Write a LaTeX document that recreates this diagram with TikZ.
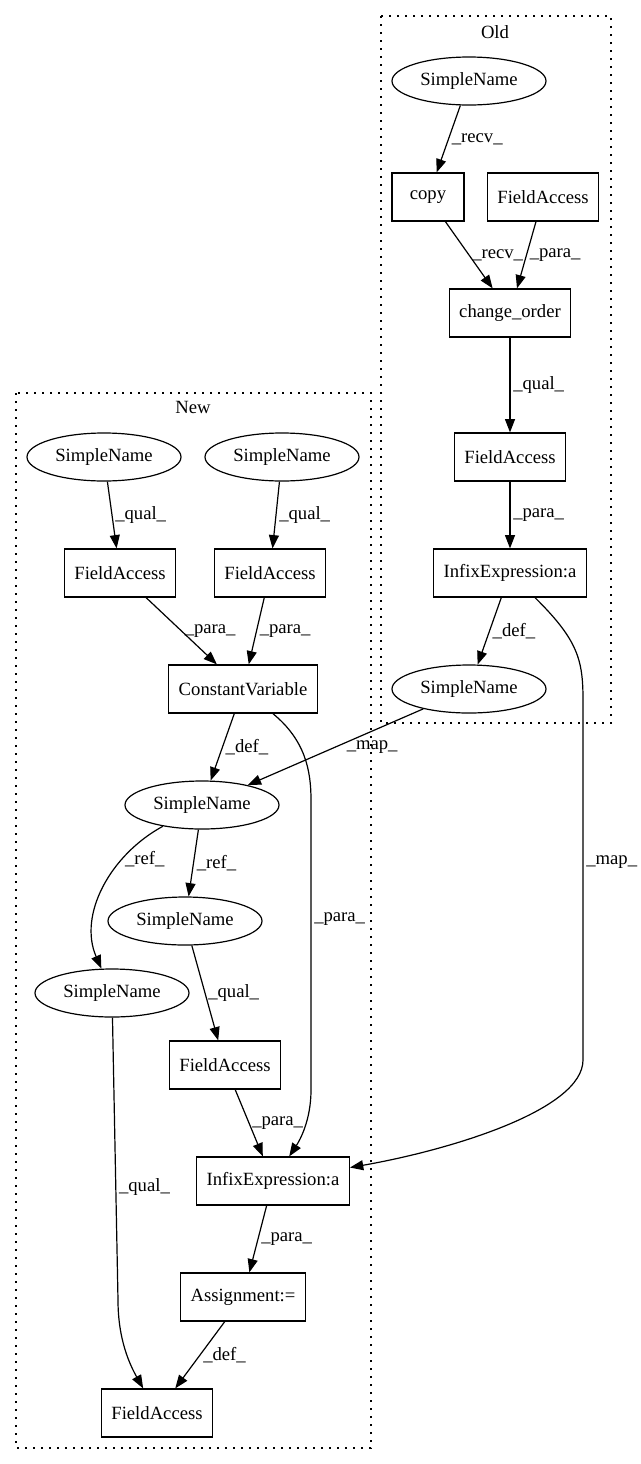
\documentclass[tikz,border=0pt]{standalone}
\usepackage{fontspec}
\setmainfont{Liberation Serif}
\usepackage{tikz}
\usetikzlibrary{arrows.meta,shapes.geometric}

\begin{document}
\begin{tikzpicture}[x=0.75pt, y=-0.75pt, line width=0.9pt, font=\fontsize{14}{16}\selectfont,
  >={Triangle[length=10pt, width=7.5pt]},
  box/.style={rectangle, draw, minimum width=54pt, minimum height=36pt, inner xsep=7.5pt},
  oval/.style={ellipse, draw, minimum width=115.5pt, minimum height=36pt, inner sep=0pt},
  cluster/.style={draw, line width=1pt, dash pattern=on 1.5pt off 4.5pt},
  lbl/.style={anchor=west, inner sep=2pt}]
\useasboundingbox (0, 0) rectangle (640, 1464);

% clusters
\draw [cluster] (381, 16) rectangle (611, 723);
\draw [cluster] (16, 393) rectangle (371, 1448);
\node (oldtitle) at (495, 32) {Old};
\node (newtitle) at (193, 407) {New};

% old
\node (sno1) at (469, 81) [oval] {SimpleName};
\node (copy) at (428, 197) [box] {copy};
\node (fao1) at (543, 197) [box] {FieldAccess};
\node (chord) at (510, 313) [box] {change\_order};
\node (fao2) at (510, 457) [box] {FieldAccess};
\node (info) at (510, 573) [box] {InfixExpression:a};
\node (sno2) at (469, 689) [oval] {SimpleName};

% new
\node (snn1) at (104, 457) [oval] {SimpleName};
\node (snn2) at (282, 457) [oval] {SimpleName};
\node (fan1) at (120, 573) [box] {FieldAccess};
\node (fan2) at (270, 573) [box] {FieldAccess};
\node (cv) at (243, 689) [box] {ConstantVariable};
\node (snn3) at (202, 805) [oval] {SimpleName};
\node (snn4) at (185, 921) [oval] {SimpleName};
\node (snn5) at (112, 993) [oval] {SimpleName};
\node (fan3) at (225, 1065) [box] {FieldAccess};
\node (infn) at (273, 1181) [box] {InfixExpression:a};
\node (asg) at (243, 1297) [box] {Assignment:=};
\node (fan4) at (157, 1413) [box] {FieldAccess};

\draw [->] (sno1) -- (copy) node [lbl, midway] {\_recv\_};
\draw [->] (copy) -- (chord) node [lbl, midway] {\_recv\_};
\draw [->] (fao1) -- (chord) node [lbl, midway] {\_para\_};
\draw [->] (chord) -- (fao2) node [lbl, midway] {\_qual\_};
\draw [->] (fao2) -- (info) node [lbl, midway] {\_para\_};
\draw [->] (info) -- (sno2) node [lbl, midway] {\_def\_};
\draw [->] (info) .. controls (578, 640) and (583, 660) .. (583, 700) -- (583, 1060) node [lbl, pos=0.45] {\_map\_}
  .. controls (583, 1110) and (450, 1150) .. (infn);
\draw [->] (sno2) -- (snn3) node [lbl, midway, xshift=6pt] {\_map\_};

\draw [->] (snn1) -- (fan1) node [lbl, midway] {\_qual\_};
\draw [->] (snn2) -- (fan2) node [lbl, midway] {\_qual\_};
\draw [->] (fan1) -- (cv) node [lbl, midway] {\_para\_};
\draw [->] (fan2) -- (cv) node [lbl, midway] {\_para\_};
\draw [->] (cv) -- (snn3) node [lbl, midway] {\_def\_};
\draw [->] (cv) .. controls (305, 740) and (311, 770) .. (311, 800) -- (311, 1090) node [lbl, pos=0.41] {\_para\_}
  .. controls (311, 1120) and (300, 1140) .. (infn);
\draw [->] (snn3) -- (snn4) node [lbl, midway] {\_ref\_};
\draw [->] (snn3) .. controls (110, 855) and (78, 915) .. (snn5) node [lbl, pos=0.3] {\_ref\_};
\draw [->] (snn4) -- (fan3) node [lbl, midway] {\_qual\_};
\draw [->] (snn5) -- (118, 1300) node [lbl, pos=0.6] {\_qual\_} .. controls (118, 1340) and (130, 1365) .. (fan4);
\draw [->] (fan3) -- (infn) node [lbl, midway] {\_para\_};
\draw [->] (infn) -- (asg) node [lbl, midway] {\_para\_};
\draw [->] (asg) -- (fan4) node [lbl, midway] {\_def\_};
\end{tikzpicture}
\end{document}
